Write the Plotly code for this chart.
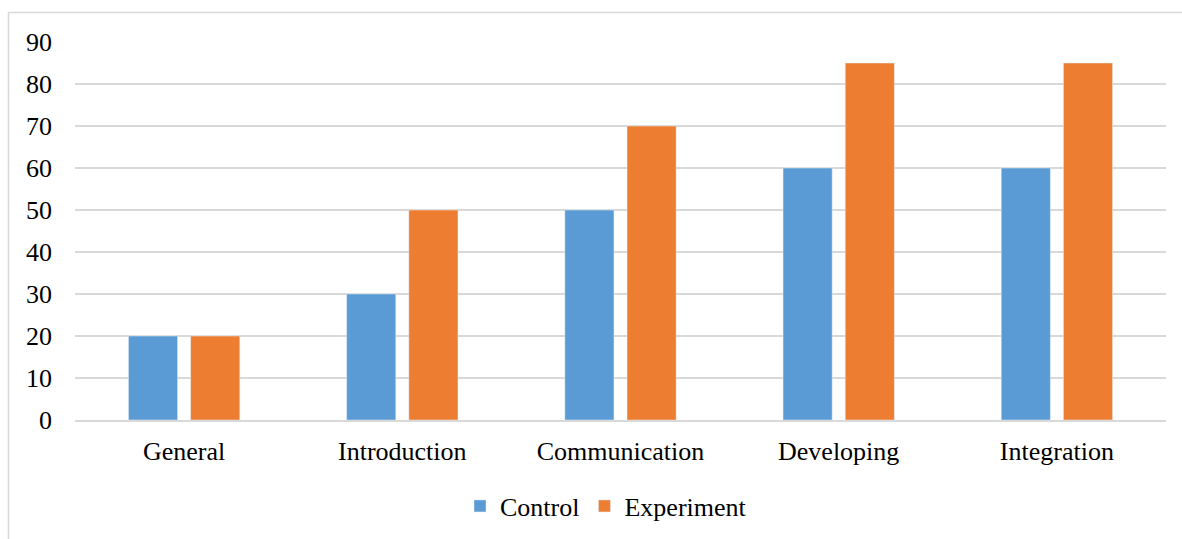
import plotly.graph_objects as go

categories = ["General", "Introduction", "Communication", "Developing", "Integration"]
control = [20, 30, 50, 60, 60]
experiment = [20, 50, 70, 85, 85]
y_ticks = [0, 10, 20, 30, 40, 50, 60, 70, 80, 90]

FONT = "Times New Roman, Liberation Serif, DejaVu Serif, serif"
FS = 26
W, H = 1182, 539
L, R, T, B = 75, 16, 42, 119

fig = go.Figure()
fig.add_trace(go.Bar(name="Control", x=categories, y=control, marker_color="#5B9BD5"))
fig.add_trace(go.Bar(name="Experiment", x=categories, y=experiment, marker_color="#ED7D31"))

pw, ph = W - L - R, H - T - B

def px_x(p):
    return (p - L) / pw

def px_y(p):
    return (H - B - p) / ph

fig.update_layout(
    width=W, height=H,
    margin=dict(l=L, r=R, t=T, b=B, autoexpand=False),
    paper_bgcolor="white", plot_bgcolor="white",
    font=dict(family=FONT, size=FS, color="#000000"),
    barmode="group", bargap=0.43, bargroupgap=0.21,
    showlegend=True,
    legend=dict(orientation="h", x=px_x(606), xanchor="center", y=px_y(506), yanchor="middle",
                font=dict(family=FONT, size=FS), itemwidth=30, traceorder="normal"),
    xaxis=dict(showgrid=False, showline=True, linecolor="#D9D9D9", linewidth=1.5,
               ticks="", ticklabelstandoff=7, tickfont=dict(family=FONT, size=FS)),
    yaxis=dict(range=[0, 90], tickvals=y_ticks, showgrid=True, gridcolor="#D9D9D9",
               gridwidth=1.5, zeroline=False, showline=False, ticks="",
               ticklabelstandoff=22, tickfont=dict(family=FONT, size=FS)),
    shapes=[dict(type="rect", xref="paper", yref="paper",
                 x0=px_x(8.5), x1=px_x(W + 20), y0=px_y(H + 20), y1=px_y(12.5),
                 line=dict(color="#D9D9D9", width=1.5), fillcolor="rgba(0,0,0,0)",
                 layer="below")],
)

fig.write_html("out.html")
